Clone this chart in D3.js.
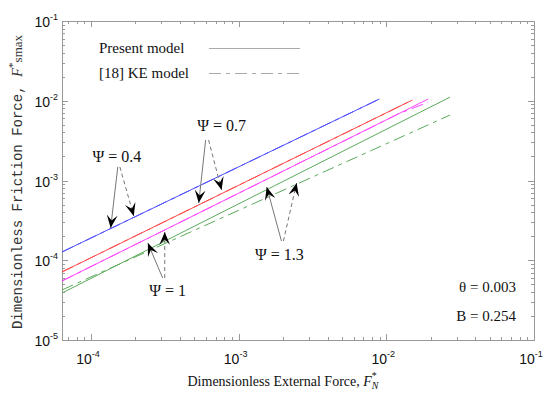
<!DOCTYPE html>
<html>
<head>
<meta charset="utf-8">
<script src="https://d3js.org/d3.v7.min.js"></script>
<style>
  body { margin: 0; background: #fff; }
  svg { display: block; }
</style>
</head>
<body>
<script>
// Data (log-log, F*N vs F*smax)

var xTicks = [1e-4, 1e-3, 1e-2, 1e-1];
var yTicks = [1e-5, 1e-4, 1e-3, 1e-2, 1e-1];
var xTickLabels = ["-4", "-3", "-2", "-1"];
var yTickLabels = ["-5", "-4", "-3", "-2", "-1"];

var blue = "#5050ff";
var red = "#ff4a4a";
var magenta = "#ff44ff";
var green = "#5aaa5a";

// present model
var psi04 = [[6.37e-5, 1.27e-4], [8.97e-3, 1.05e-2]];
var psi07 = [[6.37e-5, 7.13e-5], [1.5e-2, 1.02e-2]];
var psi10 = [[6.37e-5, 5.5e-5], [1.92e-2, 1.05e-2]];
var psi13 = [[6.37e-5, 3.88e-5], [2.7e-2, 1.11e-2]];

// [18] KE model
var ke04 = [[6.37e-5, 1.27e-4], [8.97e-3, 1.05e-2]];
var ke07 = [[6.37e-5, 7.13e-5], [1.5e-2, 1.02e-2]];
var ke10 = [[6.37e-5, 5.5e-5], [1.2e-2, 6.8e-3], [1.92e-2, 9.6e-3]];
var ke13 = [[6.37e-5, 4.24e-5], [2.7e-2, 6.62e-3]];

var presentSeries = [psi04, psi07, psi10, psi13];
var keSeries = [ke04, ke07, ke10, ke13];
var seriesColors = [blue, red, magenta, green];

// annotation labels and arrows [from, to, dashed]
var labels = [
  { text: "0.4", x: 1.5e-4, y: 1.97e-3 },
  { text: "0.7", x: 7.67e-4, y: 4.82e-3 },
  { text: "1", x: 3.31e-4, y: 4.11e-5 },
  { text: "1.3", x: 1.89e-3, y: 1.16e-4 }
];
var arrows = [
  [[1.52e-4, 1.48e-3], [1.36e-4, 2.54e-4], false],
  [[1.57e-4, 1.48e-3], [1.95e-4, 3.59e-4], true],
  [[5.98e-4, 3.22e-3], [5.37e-4, 5.22e-4], false],
  [[6.26e-4, 3.22e-3], [7.67e-4, 7.6e-4], true],
  [[3.06e-4, 5.98e-5], [2.43e-4, 1.64e-4], false],
  [[3.16e-4, 5.98e-5], [3.16e-4, 2.26e-4], true],
  [[1.95e-3, 1.74e-4], [1.55e-3, 8.3e-4], false],
  [[2.01e-3, 1.74e-4], [2.47e-3, 9.3e-4], true]
];

var width = 550, height = 399;
var margin = { left: 62, right: 16, top: 21, bottom: 59 };

var svg = d3.select("body")
    .append("svg")
    .attr("width", width)
    .attr("height", height);

var x = d3.scaleLog()
    .domain([6.37e-5, 0.1])
    .range([margin.left, width - margin.right]);

var y = d3.scaleLog()
    .domain([1e-5, 0.1])
    .range([height - margin.bottom, margin.top]);

var axisColor = "#999";

// minor + major ticks on all four sides, pointing inwards
function minorTicks(scale) {
  var out = [];
  var d = scale.domain();
  for (var e = -6; e <= -1; e++) {
    for (var m = 1; m < 10; m++) {
      var v = m * Math.pow(10, e);
      if (v >= d[0] * 0.999 && v <= d[1] * 1.001) out.push({ v: v, major: m == 1 });
    }
  }
  return out;
}

var x0 = margin.left, x1 = width - margin.right;
var y0 = height - margin.bottom, y1 = margin.top;

var tickG = svg.append("g").attr("stroke", axisColor).attr("stroke-width", 1);

minorTicks(x).forEach(function (t) {
  var px = Math.round(x(t.v)) + 0.5;
  var len = t.major ? 6 : 3;
  tickG.append("line").attr("x1", px).attr("x2", px).attr("y1", y0).attr("y2", y0 - len);
  tickG.append("line").attr("x1", px).attr("x2", px).attr("y1", y1).attr("y2", y1 + len);
});
minorTicks(y).forEach(function (t) {
  var py = Math.round(y(t.v)) + 0.5;
  var len = t.major ? 6 : 3;
  tickG.append("line").attr("y1", py).attr("y2", py).attr("x1", x0).attr("x2", x0 + len);
  tickG.append("line").attr("y1", py).attr("y2", py).attr("x1", x1).attr("x2", x1 - len);
});

svg.append("rect")
    .attr("x", x0 + 0.5)
    .attr("y", y1 + 0.5)
    .attr("width", x1 - x0)
    .attr("height", y0 - y1)
    .attr("fill", "none")
    .attr("stroke", axisColor);

// tick labels
var tickFont = "'Liberation Sans', Arial, sans-serif";
xTicks.forEach(function (v, i) {
  var t = svg.append("text")
      .attr("x", x(v) - 3)
      .attr("y", y0 + 24)
      .attr("text-anchor", "middle")
      .attr("font-family", tickFont)
      .attr("font-size", 14)
      .attr("fill", "#111");
  t.append("tspan").text("10");
  t.append("tspan").attr("dy", -7).attr("font-size", 9).text(xTickLabels[i]);
});
yTicks.forEach(function (v, i) {
  var t = svg.append("text")
      .attr("x", x0 - 4)
      .attr("y", y(v) + 6)
      .attr("text-anchor", "end")
      .attr("font-family", tickFont)
      .attr("font-size", 14)
      .attr("fill", "#111");
  t.append("tspan").text("10");
  t.append("tspan").attr("dy", -7).attr("font-size", 9).text(yTickLabels[i]);
});

// axis titles
var serif = "'Liberation Serif', 'Times New Roman', serif";
var xt = svg.append("text")
    .attr("x", 283)
    .attr("y", 386)
    .attr("text-anchor", "middle")
    .attr("font-family", serif)
    .attr("font-size", 14)
    .attr("fill", "#111");
xt.append("tspan").text("Dimensionless External Force, ");
xt.append("tspan").attr("font-style", "italic").text("F");
xt.append("tspan").attr("dy", -7).attr("font-size", 10).text("*");
xt.append("tspan").attr("dx", -5).attr("dy", 10).attr("font-size", 10).attr("font-style", "italic").text("N");

var yt = svg.append("text")
    .attr("transform", "translate(22,182) rotate(-90)")
    .attr("text-anchor", "middle")
    .attr("font-family", "'Liberation Mono', 'DejaVu Sans Mono', monospace")
    .attr("font-size", 14)
    .attr("fill", "#333");
yt.append("tspan").text("Dimensionless Friction Force, ");
yt.append("tspan").attr("font-family", serif).attr("font-style", "italic").attr("font-size", 15).text("F");
yt.append("tspan").attr("font-family", serif).attr("font-size", 11).attr("dy", -6).text("*");
yt.append("tspan").attr("font-family", serif).attr("font-size", 13).attr("dy", 6).text("smax");

// series lines
var line = d3.line()
    .x(function (d) { return x(d[0]); })
    .y(function (d) { return y(d[1]); });

keSeries.forEach(function (s, i) {
  svg.append("path")
      .attr("d", line(s))
      .attr("fill", "none")
      .attr("stroke", seriesColors[i])
      .attr("stroke-width", 1)
      .attr("stroke-dasharray", "12,5,4,5");
});
presentSeries.forEach(function (s, i) {
  svg.append("path")
      .attr("d", line(s))
      .attr("fill", "none")
      .attr("stroke", seriesColors[i])
      .attr("stroke-width", 1);
});

// legend
var legendText = ["Present model", "[18] KE model"];
legendText.forEach(function (txt, i) {
  var ly = 48 + i * 25;
  svg.append("text")
      .attr("x", 99)
      .attr("y", ly + 5)
      .attr("font-family", serif)
      .attr("font-size", 15)
      .attr("fill", "#111")
      .text(txt);
  svg.append("line")
      .attr("x1", 209).attr("x2", 300)
      .attr("y1", ly + 0.5).attr("y2", ly + 0.5)
      .attr("stroke", "#aaa")
      .attr("stroke-dasharray", i == 0 ? null : "12,5,4,5");
});

// annotations
svg.append("defs").append("marker")
    .attr("id", "head")
    .attr("viewBox", "0 0 12 10")
    .attr("refX", 12)
    .attr("refY", 5)
    .attr("markerWidth", 13)
    .attr("markerHeight", 11)
    .attr("markerUnits", "userSpaceOnUse")
    .attr("orient", "auto")
    .append("path")
    .attr("d", "M0,0 L12,5 L0,10 L5,5 Z")
    .attr("fill", "#000");

arrows.forEach(function (a) {
  svg.append("line")
      .attr("x1", x(a[0][0])).attr("y1", y(a[0][1]))
      .attr("x2", x(a[1][0])).attr("y2", y(a[1][1]))
      .attr("stroke", "#777")
      .attr("stroke-width", 1)
      .attr("stroke-dasharray", a[2] ? "4,3" : null)
      .attr("marker-end", "url(#head)");
});

labels.forEach(function (l) {
  svg.append("text")
      .attr("x", x(l.x))
      .attr("y", y(l.y) + 5)
      .attr("text-anchor", "middle")
      .attr("font-family", serif)
      .attr("font-size", 16)
      .attr("fill", "#111")
      .text("\u03A8 = " + l.text);
});

// parameters
var params = ["\u03B8 = 0.003", "B = 0.254"];
params.forEach(function (p, i) {
  svg.append("text")
      .attr("x", 516)
      .attr("y", 292 + i * 29)
      .attr("text-anchor", "end")
      .attr("font-family", serif)
      .attr("font-size", 15)
      .attr("fill", "#111")
      .text(p);
});
</script>
</body>
</html>
